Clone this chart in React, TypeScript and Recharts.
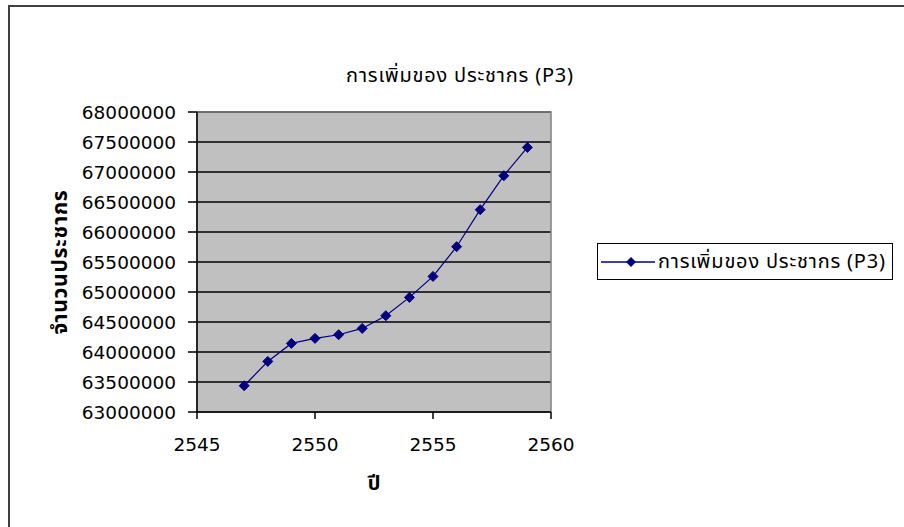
import React from 'react';
import {
  LineChart,
  Line,
  XAxis,
  YAxis,
  CartesianGrid,
  Legend,
  ReferenceArea,
} from 'recharts';

const years = [2547, 2548, 2549, 2550, 2551, 2552, 2553, 2554, 2555, 2556, 2557, 2558, 2559];
const population = [
  63438000, 63843000, 64143000, 64227000, 64288000, 64393000, 64605000, 64910000, 65260000,
  65755000, 66372000, 66938000, 67410000,
];
const xTicks = [2545, 2550, 2555, 2560];
const yTicks = [
  63000000, 63500000, 64000000, 64500000, 65000000, 65500000, 66000000, 66500000, 67000000,
  67500000, 68000000,
];
const seriesName = 'การเพิ่มของ ประชากร (P3)';
const chartTitle = 'การเพิ่มของ ประชากร (P3)';
const xLabel = 'ปี';
const yLabel = 'จำนวนประชากร';

const data = years.map((year, i) => ({ year, population: population[i] }));

const navy = '#000080';
const font = '"DejaVu Sans", "Noto Sans Thai", Tahoma, "Liberation Sans", sans-serif';
const thaiFont = 'Tahoma, "Noto Sans Thai", "Noto Sans", "DejaVu Sans", sans-serif';

const Diamond = (props: any) => {
  const { cx, cy } = props;
  if (cx == null || cy == null) return null;
  const r = 5;
  return (
    <polygon
      points={`${cx},${cy - r} ${cx + r},${cy} ${cx},${cy + r} ${cx - r},${cy}`}
      fill={navy}
      stroke={navy}
      strokeWidth={1}
    />
  );
};

const LegendBox = () => (
  <div
    style={{
      border: '1px solid #000',
      background: '#fff',
      width: 296,
      height: 37,
      boxSizing: 'border-box',
      display: 'flex',
      alignItems: 'center',
      fontFamily: thaiFont,
      fontSize: 20,
      letterSpacing: 0.8,
      color: '#000',
    }}
  >
    <svg width={57} height={20} style={{ marginLeft: 3, flex: 'none' }}>
      <line x1={0} y1={10} x2={54} y2={10} stroke={navy} strokeWidth={1.5} />
      <polygon points="30,5 35,10 30,15 25,10" fill={navy} />
    </svg>
    <span style={{ whiteSpace: 'nowrap' }}>{seriesName}</span>
  </div>
);

export default function App() {
  return (
    <div
      style={{
        position: 'absolute',
        left: 0,
        top: 0,
        width: 904,
        height: 527,
        overflow: 'hidden',
        background: '#fff',
      }}
    >
      <div
        style={{
          position: 'absolute',
          left: 8,
          top: 5,
          width: 1000,
          height: 1000,
          borderTop: '2px solid #404040',
          borderLeft: '2px solid #404040',
        }}
      />
      <div
        style={{
          position: 'absolute',
          left: 0,
          width: 920,
          top: 61,
          textAlign: 'center',
          fontFamily: thaiFont,
          fontSize: 20,
          letterSpacing: 0.8,
          color: '#000',
          whiteSpace: 'nowrap',
        }}
      >
        {chartTitle}
      </div>
      <div style={{ position: 'absolute', left: 0, top: 0 }}>
        <LineChart
          width={904}
          height={527}
          data={data}
          margin={{ top: 112, right: 353, bottom: 35, left: 47 }}
        >
          <CartesianGrid
            horizontal
            vertical={false}
            fill="#c0c0c0"
            fillOpacity={1}
            stroke="#000"
            strokeWidth={1.5}
          />
          <ReferenceArea
            x1={2545}
            x2={2560}
            y1={63000000}
            y2={68000000}
            fill="none"
            stroke="#808080"
            strokeWidth={1.5}
            ifOverflow="visible"
          />
          <XAxis
            dataKey="year"
            type="number"
            domain={[2545, 2560]}
            ticks={xTicks}
            interval={0}
            height={80}
            tickSize={7}
            tickMargin={19}
            axisLine={{ stroke: '#000', strokeWidth: 1.5 }}
            tickLine={{ stroke: '#000', strokeWidth: 1.5 }}
            tick={{ fill: '#000', fontSize: 18.5, fontFamily: font }}
            label={{
              value: xLabel,
              position: 'insideBottom',
              offset: 2,
              fill: '#000',
              fontSize: 20,
              fontWeight: 'bold',
              fontFamily: thaiFont,
            }}
          />
          <YAxis
            type="number"
            domain={[63000000, 68000000]}
            ticks={yTicks}
            interval={0}
            width={150}
            tickSize={9}
            tickMargin={12}
            axisLine={{ stroke: '#000', strokeWidth: 1.5 }}
            tickLine={{ stroke: '#000', strokeWidth: 1.5 }}
            tick={{ fill: '#000', fontSize: 18.5, fontFamily: font }}
            label={{
              value: yLabel,
              angle: -90,
              position: 'insideLeft',
              offset: 13,
              fill: '#000',
              fontSize: 21,
              letterSpacing: 0.8,
              fontWeight: 'bold',
              fontFamily: thaiFont,
              style: { textAnchor: 'middle' },
            }}
          />
          <Legend
            layout="horizontal"
            align="center"
            verticalAlign="middle"
            content={() => <LegendBox />}
            wrapperStyle={{ left: 597, top: 243, width: 296, right: 'auto', bottom: 'auto' }}
          />
          <Line
            type="linear"
            dataKey="population"
            name={seriesName}
            stroke={navy}
            strokeWidth={1.2}
            dot={<Diamond />}
            activeDot={false}
            isAnimationActive={false}
          />
        </LineChart>
      </div>
    </div>
  );
}
